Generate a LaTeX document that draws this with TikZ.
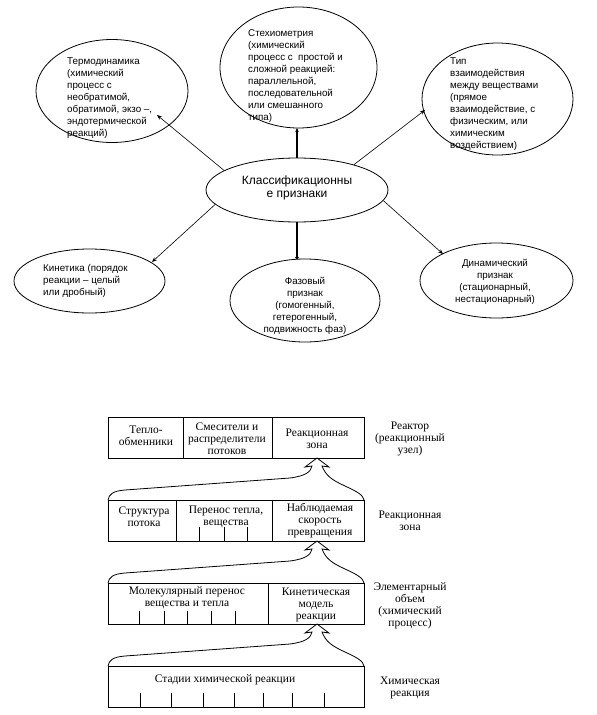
\documentclass[tikz,border=0pt]{standalone}
\usepackage{fontspec}
\setmainfont{Liberation Serif}
\newfontfamily\arialf{Liberation Sans}
\usetikzlibrary{arrows.meta,shapes.geometric}
\begin{document}
\begin{tikzpicture}[x=1pt,y=-1pt,
  ell/.style={draw, ellipse, inner sep=0pt, line width=0.8pt},
  stxt/.style={inner sep=0pt, font=\arialf\fontsize{9.8}{12}\selectfont},
  ctxt/.style={inner sep=0pt, align=center, font=\arialf\fontsize{12}{12.5}\selectfont},
  arr/.style={-{Stealth[length=5pt,width=4pt]}, line width=0.6pt},
  thickarr/.style={-{Stealth[length=4pt,width=3.5pt]}, line width=1.3pt},
  dotarr/.style={-{Circle[length=3pt]}, line width=1.3pt},
  box/.style={draw, rectangle, inner sep=0pt, line width=0.8pt, minimum width=256pt, minimum height=41pt, anchor=north west},
  cell/.style={inner sep=0pt, align=center, font=\fontsize{11.5}{12}\selectfont},
  tick/.style={line width=0.8pt},
  harr/.style={line width=0.8pt, line join=miter}
]
\useasboundingbox (0,0) rectangle (597,715);

% ---------- upper diagram ----------
\node[ell, minimum width=182pt, minimum height=64pt] (c) at (297,190) {};
\node[ctxt, anchor=north] (ct) at (297,176) {Классификационны\\е признаки};

\node[ell, minimum width=152pt, minimum height=103pt] (th) at (112,91) {};
\node[stxt, anchor=north west, align=left] (tht) at (67,57.5) {Термодинамика\\(химический\\процесс с\\необратимой,\\обратимой, экзо –,\\эндотермической\\реакций)};

\node[ell, minimum width=157pt, minimum height=121pt] (st) at (298.5,67.5) {};
\node[stxt, anchor=north west, align=left] (stt) at (248,29.5) {Стехиометрия\\(химический\\процесс с~ простой и\\сложной реакцией:\\параллельной,\\последовательной\\или смешанного\\типа)};

\node[ell, minimum width=151pt, minimum height=112pt] (tp) at (497.5,99) {};
\node[stxt, anchor=north west, align=left] (tpt) at (450,57.5) {Тип\\взаимодействия\\между веществами\\(прямое\\взаимодействие, с\\физическим, или\\химическим\\воздействием)};

\node[ell, minimum width=151pt, minimum height=64pt] (kn) at (89.5,281) {};
\node[stxt, anchor=north west, align=left] (knt) at (43,264.5) {Кинетика (порядок\\реакции – целый\\или дробный)};

\node[ell, minimum width=150pt, minimum height=83pt] (ph) at (305,300.5) {};
\node[stxt, anchor=north, align=center] (pht) at (305,277.5) {Фазовый\\признак\\(гомогенный,\\гетерогенный,\\подвижность фаз)};

\node[ell, minimum width=153pt, minimum height=75pt] (dy) at (496.5,280.5) {};
\node[stxt, anchor=north, align=center] (dyt) at (495,259.5) {Динамический\\признак\\(стационарный,\\нестационарный)};

\coordinate (thT) at (157,115);
\coordinate (stT) at (297,128);
\coordinate (tpT) at (425,110);
\coordinate (knT) at (152,262);
\coordinate (phT) at (297,259);
\coordinate (dyT) at (443,254);

\draw[arr] (c.165) -- (thT);
\draw[thickarr] (c.north) -- (stT);
\draw[arr] (c.24) -- (tpT);
\draw[arr] (c.190) -- (knT);
\draw[dotarr] (c.south) -- (phT);
\draw[arr] (c.-7) -- (dyT);

% ---------- lower diagram ----------
\node[box] (r1) at (108,417) {};
\node[box] (r2) at (108,500) {};
\node[box] (r3) at (108,583) {};
\node[box] (r4) at (108,666) {};

% dividers
\draw[tick] (183,417) -- (183,458);
\draw[tick] (272,417) -- (272,458);
\draw[tick] (176,500) -- (176,541);
\draw[tick] (272,500) -- (272,541);
\draw[tick] (268,583) -- (268,624);

% ticks
\foreach \x in {199,224,247} \draw[tick] (\x,527) -- (\x,541);
\foreach \x in {139,164,187,211,235} \draw[tick] (\x,611) -- (\x,624);
\foreach \x in {140,171,203,234,263,292,324} \draw[tick] (\x,693) -- (\x,707);

% cell texts
\node[cell] (c11) at (146,436) {Тепло-\\обменники};
\node[cell] (c12) at (227,438.5) {Смесители и\\распределители\\потоков};
\node[cell] (c13) at (317,439) {Реакционная\\зона};
\node[cell] (c21) at (144,516.5) {Структура\\потока};
\node[cell] (c22) at (226,516.5) {Перенос тепла,\\вещества};
\node[cell] (c23) at (320,520.5) {Наблюдаемая\\скорость\\превращения};
\node[cell] (c31) at (187,598) {Молекулярный перенос\\вещества и тепла};
\node[cell] (c32) at (316,604.5) {Кинетическая\\модель\\реакции};
\node[cell] (c41) at (225,680) {Стадии химической реакции};

% level labels
\node[cell] (l1) at (410,438.5) {Реактор\\(реакционный\\узел)};
\node[cell] (l2) at (410,521) {Реакционная\\зона};
\node[cell] (l3) at (410,605.5) {Элементарный\\объем\\(химический\\процесс)};
\node[cell] (l4) at (410,687.5) {Химическая\\реакция};

% hollow bracket arrows
\foreach \t in {500,583,666}
  \draw[harr] (108,\t) .. controls (109,\t-6) and (113,\t-9) .. (125,\t-10)
     -- (290,\t-22) .. controls (305,\t-24) and (311,\t-28) .. (312,\t-34)
     -- (305,\t-33) -- (317,\t-42) -- (329,\t-33) -- (322,\t-34)
     .. controls (326,\t-24) and (332,\t-20) .. (345,\t-14)
     .. controls (358,\t-8) and (363,\t-5) .. (364,\t);
\end{tikzpicture}
\end{document}
